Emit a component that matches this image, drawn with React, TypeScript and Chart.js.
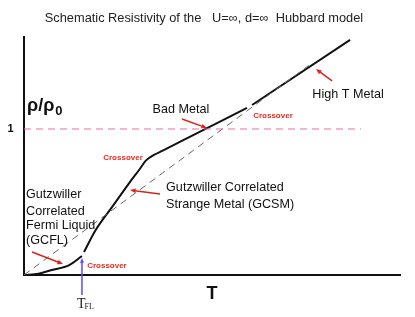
import React, { useEffect, useRef } from "react";
import { Chart, registerables } from "chart.js";

Chart.register(...registerables);

// Data (T, rho/rho0)
const gcflT = [0, 0.1, 0.19, 0.31, 0.397];
const gcflRho = [0, 0.009, 0.034, 0.068, 0.13];

const gcsmT = [0.411, 0.491, 0.605, 0.719, 0.788, 0.834, 0.89, 0.95, 1.084, 1.527];
const gcsmRho = [0.158, 0.308, 0.468, 0.628, 0.719, 0.783, 0.822, 0.852, 0.92, 1.144];

const highT = [1.562, 2.233];
const highRho = [1.164, 1.61];

const refT = [0, 1.95];
const refRho = [0, 1.435];

const unityT = [0, 2.308];
const unityRho = [1, 1];

const T_MAX = 2.575;
const RHO_MAX = 1.63;
const T_FL = 0.397;

const TITLE = "Schematic Resistivity of the   U=\u221e, d=\u221e  Hubbard model";
const gcflLines = ["Gutzwiller", "Correlated", "Fermi Liquid", "(GCFL)"];
const gcsmLines = ["Gutzwiller Correlated", "Strange Metal (GCSM)"];

const pts = (xs: number[], ys: number[]) => xs.map((x, i) => ({ x, y: ys[i] }));

const SANS = "'Liberation Sans', Arial, Helvetica, sans-serif";
const SERIF = "'Liberation Serif', 'Times New Roman', serif";
const RED = "#d8261c";

function arrow(ctx: CanvasRenderingContext2D, x1: number, y1: number, x2: number, y2: number, color: string, w = 1.5, head = 6) {
  const a = Math.atan2(y2 - y1, x2 - x1);
  ctx.save();
  ctx.strokeStyle = color;
  ctx.fillStyle = color;
  ctx.lineWidth = w;
  ctx.beginPath();
  ctx.moveTo(x1, y1);
  ctx.lineTo(x2 - Math.cos(a) * head * 0.8, y2 - Math.sin(a) * head * 0.8);
  ctx.stroke();
  ctx.beginPath();
  ctx.moveTo(x2, y2);
  ctx.lineTo(x2 - head * Math.cos(a - 0.4), y2 - head * Math.sin(a - 0.4));
  ctx.lineTo(x2 - head * Math.cos(a + 0.4), y2 - head * Math.sin(a + 0.4));
  ctx.closePath();
  ctx.fill();
  ctx.restore();
}

const annotations = {
  id: "annotations",
  afterDatasetsDraw(chart: any) {
    const ctx: CanvasRenderingContext2D = chart.ctx;
    const xs = chart.scales.x;
    const ys = chart.scales.y;
    const X = (v: number) => xs.getPixelForValue(v);
    const Y = (v: number) => ys.getPixelForValue(v);
    ctx.save();
    ctx.textBaseline = "middle";

    // title
    ctx.fillStyle = "#222";
    ctx.font = `12.8px ${SANS}`;
    ctx.textAlign = "center";
    ctx.fillText(TITLE, 204, 18);

    // y label rho/rho0
    ctx.fillStyle = "#111";
    ctx.textAlign = "left";
    ctx.font = `bold 18px ${SANS}`;
    ctx.fillText("\u03c1/\u03c1", 27, 106);
    const w = ctx.measureText("\u03c1/\u03c1").width;
    ctx.font = `bold 13px ${SANS}`;
    ctx.fillText("0", 27 + w + 1, 111);

    // "1" tick
    ctx.font = `bold 11px ${SANS}`;
    ctx.textAlign = "center";
    ctx.fillText("1", 10.5, Y(1));

    // x axis label T
    ctx.font = `bold 18px ${SANS}`;
    ctx.fillText("T", 212, 294);

    // T_FL
    ctx.font = `14px ${SERIF}`;
    ctx.textAlign = "left";
    ctx.fillStyle = "#222";
    ctx.fillText("T", 77, 304);
    const tw = ctx.measureText("T").width;
    ctx.font = `8px ${SERIF}`;
    ctx.fillText("FL", 77 + tw - 1, 307);
    arrow(ctx, X(T_FL), Y(-0.137), X(T_FL), Y(0.116), "#5a4bff", 1.5, 5);

    // labels
    ctx.fillStyle = "#111";
    ctx.font = `12.6px ${SANS}`;
    ctx.textAlign = "center";
    ctx.fillText("Bad Metal", X(1.075), Y(1.13));
    ctx.fillText("High T Metal", X(2.219), Y(1.233));
    ctx.textAlign = "left";
    const gcsmRhoPos = [0.596, 0.486];
    gcsmLines.forEach((s, i) => ctx.fillText(s, X(0.973), Y(gcsmRhoPos[i])));
    const gcflRhoPos = [0.548, 0.438, 0.336, 0.233];
    gcflLines.forEach((s, i) => ctx.fillText(s, X(0.014), Y(gcflRhoPos[i])));

    // crossover labels
    ctx.fillStyle = "#ee2a1f";
    ctx.font = `bold 8px ${SANS}`;
    ctx.textAlign = "center";
    ctx.fillText("Crossover", X(1.705), Y(1.089));
    ctx.fillText("Crossover", X(0.678), Y(0.801));
    ctx.fillText("Crossover", X(0.568), Y(0.062));

    // red arrows
    arrow(ctx, X(1.082), Y(1.068), X(1.253), Y(1.007), RED);
    arrow(ctx, X(2.11), Y(1.329), X(2.0), Y(1.411), RED);
    arrow(ctx, X(0.932), Y(0.555), X(0.726), Y(0.582), RED);
    arrow(ctx, X(0.055), Y(0.158), X(0.267), Y(0.075), RED);

    ctx.restore();
  },
};

export default function App() {
  const ref = useRef<HTMLCanvasElement>(null);
  useEffect(() => {
    if (!ref.current) return;
    const chart = new Chart(ref.current, {
      type: "scatter",
      data: {
        datasets: [
          {
            data: pts(unityT, unityRho),
            showLine: true,
            borderColor: "#f06a9e",
            borderWidth: 1,
            borderDash: [7, 5],
            pointRadius: 0,
          },
          {
            data: pts(refT, refRho),
            showLine: true,
            borderColor: "#666",
            borderWidth: 1,
            borderDash: [7, 5],
            pointRadius: 0,
          },
          {
            data: pts(gcflT, gcflRho),
            showLine: true,
            borderColor: "#111",
            borderWidth: 2,
            cubicInterpolationMode: "monotone",
            pointRadius: 0,
          },
          {
            data: pts(gcsmT, gcsmRho),
            showLine: true,
            borderColor: "#111",
            borderWidth: 2,
            cubicInterpolationMode: "monotone",
            pointRadius: 0,
          },
          {
            data: pts(highT, highRho),
            showLine: true,
            borderColor: "#111",
            borderWidth: 2,
            pointRadius: 0,
          },
        ],
      } as any,
      options: {
        animation: false,
        responsive: false,
        events: [],
        layout: { padding: { left: 24, right: 15, top: 37, bottom: 42 } },
        plugins: { legend: { display: false }, tooltip: { enabled: false }, title: { display: false } },
        scales: {
          x: {
            type: "linear",
            min: 0,
            max: T_MAX,
            ticks: { display: false },
            grid: { display: false, drawTicks: false },
            border: { display: true, color: "#111", width: 2 },
          },
          y: {
            type: "linear",
            min: 0,
            max: RHO_MAX,
            ticks: { display: false },
            grid: { display: false, drawTicks: false },
            border: { display: true, color: "#111", width: 2 },
          },
        },
      } as any,
      plugins: [annotations],
    });
    return () => chart.destroy();
  }, []);
  return (
    <div style={{ position: "fixed", left: 0, top: 0, width: 415, height: 317, background: "#fff" }}>
      <canvas ref={ref} width={415} height={317} style={{ width: 415, height: 317 }} />
    </div>
  );
}
